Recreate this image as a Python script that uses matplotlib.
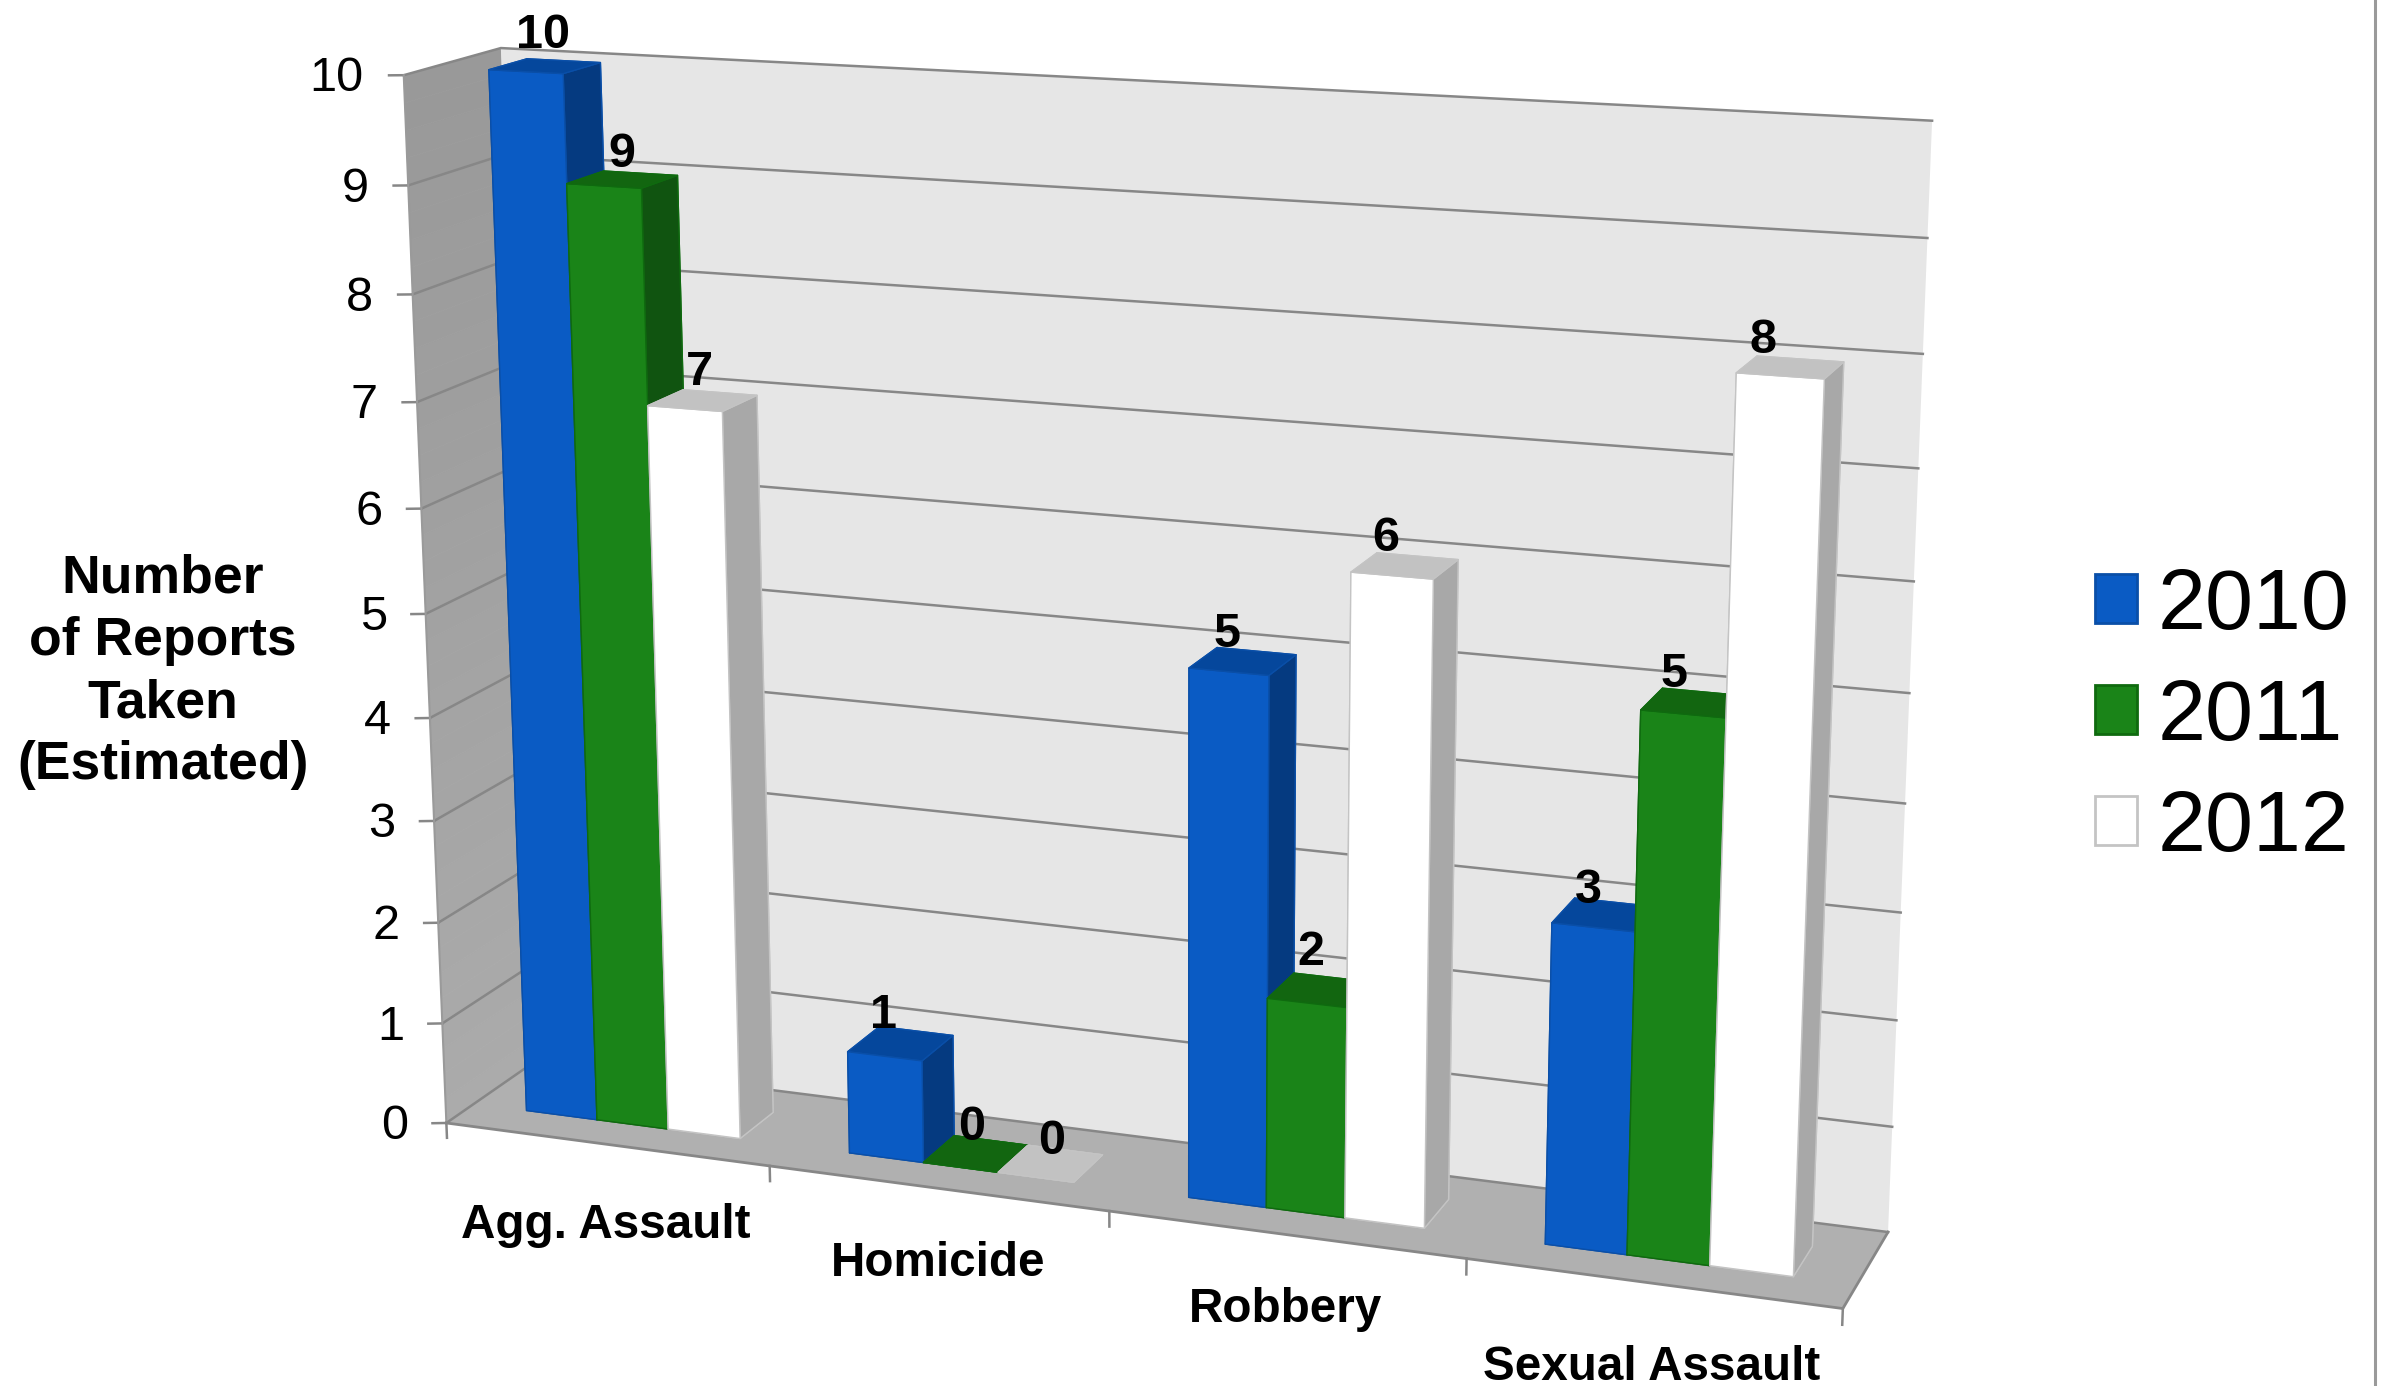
import numpy as np
import matplotlib
matplotlib.use('Agg')
import matplotlib.pyplot as plt
from matplotlib.lines import Line2D
from matplotlib.patches import Patch
from mpl_toolkits.mplot3d import proj3d
from mpl_toolkits.mplot3d.art3d import Poly3DCollection

plt.rcParams['font.family'] = ['Liberation Sans', 'DejaVu Sans']

categories = ['Agg. Assault', 'Homicide', 'Robbery', 'Sexual Assault']
years = ['2010', '2011', '2012']
reports_2010 = [10, 1, 5, 3]
reports_2011 = [9, 0, 2, 5]
reports_2012 = [7, 0, 6, 8]
y_ticks = [0, 1, 2, 3, 4, 5, 6, 7, 8, 9, 10]

# front, top, side, edge for each series
blues = ['#0a5bc4', '#05479c', '#053a80', '#0a4fa8']
greens = ['#1a8418', '#126610', '#105410', '#0f6a0f']
whites = ['#ffffff', '#c2c2c2', '#a8a8a8', '#c4c4c4']

# small per-label shifts for the value labels (x in category units, z in report units)
label_dx = [[0, -0.026, 0.004, 0.026], [0.009, 0.017, 0.026, 0.022], [0.004, 0.039, 0.004, 0.009]]
label_dz = [[0.22, 0.11, 0.13, 0.08], [0.16, 0.10, 0.22, 0.13], [0.17, 0.07, 0.14, 0.14]]

W, H = 2383, 1386
S = 2800
CX, CY = 1106.3, 690.1

fig = plt.figure(figsize=(W / 100, H / 100), dpi=100)
ax = fig.add_axes([(CX - S / 2) / W, (H - CY - S / 2) / H, S / W, S / H],
                  projection='3d', computed_zorder=False)
ax.set_axis_off()
ax.patch.set_alpha(0)

grid_col = '#878787'

# walls and floor
strips = np.linspace(0, 10, 41)
shades = np.linspace(0.67, 0.60, 40)
left_wall = [[(0, 0, a), (0, 1, a), (0, 1, b), (0, 0, b)] for a, b in zip(strips[:-1], strips[1:])]
ax.add_collection3d(Poly3DCollection(left_wall, facecolors=[str(s) for s in shades],
                                     edgecolors=[str(s) for s in shades], linewidths=0.5, zorder=0))
ax.add_collection3d(Poly3DCollection([[(0, 1, 0), (4, 1, 0), (4, 1, 10), (0, 1, 10)]],
                                     facecolors='#e6e6e6', edgecolors='none', zorder=0))
ax.add_collection3d(Poly3DCollection([[(0, 0, 0), (4, 0, 0), (4, 1, 0), (0, 1, 0)]],
                                     facecolors='#b0b0b0', edgecolors='none', zorder=0))

# gridlines run along both walls
for t in y_ticks:
    ax.plot([0, 0, 4], [0, 1, 1], [t, t, t], color=grid_col, lw=1.8, solid_joinstyle='miter', zorder=1)
    ax.plot([-0.036, 0], [-0.027, 0], [t, t], color=grid_col, lw=1.8, zorder=1)
ax.plot([0, 0], [0, 0], [0, 10], color='#9a9a9a', lw=1.5, zorder=1)
ax.plot([0, 4, 4], [0, 0, 1], [0, 0, 0], color=grid_col, lw=2.0, zorder=1)
for i in range(5):
    ax.plot([i, i], [0, 0], [0, -0.15], color=grid_col, lw=1.8, zorder=1)

# bars, left to right so the nearer ones cover the sides of the previous
bar_w = 2 / 9
y_front, y_back = 0.3, 0.7
series = [reports_2010, reports_2011, reports_2012]
palettes = [blues, greens, whites]
z = 2
for c in range(len(categories)):
    for s in range(3):
        x0 = c + 1 / 6 + s * bar_w
        front, top, side, edge = palettes[s]
        ax.bar3d(x0, y_front, 0, bar_w, y_back - y_front, series[s][c], shade=False,
                 color=[side, top, front, side, side, side], edgecolor=edge, linewidth=1.0, zorder=z)
        z += 1

ax.set_xlim(0, 4)
ax.set_ylim(0, 1)
ax.set_zlim(0, 10)
ax.set_xticks([])
ax.set_yticks([])
ax.set_zticks([])
ax.view_init(14.852, -69.862, 0.107)
ax.set_proj_type('persp', focal_length=0.3236)
ax.set_box_aspect((1.3467, 0.1886, 1), zoom=0.6525)
M = ax.get_proj()


def label3d(x, y, z3, txt, **kw):
    # flat text placed at a projected 3D position
    px, py, _ = proj3d.proj_transform(x, y, z3, M)
    ax.text2D(px, py, txt, transform=ax.transData, color='black', zorder=50, **kw)


# value labels sit over the back of each bar
for c in range(len(categories)):
    for s in range(3):
        xc = c + 1 / 6 + (s + 0.5) * bar_w
        val = series[s][c]
        label3d(xc - 0.056 - 0.0134 * xc + label_dx[s][c], y_back, val + label_dz[s][c], str(val),
                ha='center', va='center', fontsize=35, fontweight='bold')

for t in y_ticks:
    label3d(-0.098, -0.074, t - 0.03, str(t), ha='right', va='center', fontsize=35)

fig.text(163 / W, 1 - 672 / H, 'Number\nof Reports\nTaken\n(Estimated)', ha='center', va='center',
         fontsize=38.5, fontweight='bold', linespacing=1.31)

cat_x = [606, 938, 1286, 1652]
cat_y = [1225, 1264, 1309, 1368]
for name, px, py in zip(categories, cat_x, cat_y):
    fig.text(px / W, 1 - py / H, name, ha='center', va='center', fontsize=34.3, fontweight='bold')

handles = [Patch(facecolor=blues[0], edgecolor=blues[3], lw=2),
           Patch(facecolor=greens[0], edgecolor=greens[3], lw=2),
           Patch(facecolor=whites[0], edgecolor=whites[3], lw=2)]
fig.legend(handles, years, loc='center left', bbox_to_anchor=(2095 / W, 1 - 718 / H), frameon=False,
           fontsize=62, handlelength=0.49, handleheight=0.49, handletextpad=0.24,
           labelspacing=0.36, borderpad=0, borderaxespad=0)

# thin rule down the right of the slide
fig.add_artist(Line2D([2375 / W, 2375 / W], [0, 1], color='#9a9a9a', lw=2.2, transform=fig.transFigure))

fig.savefig('out.png', dpi=100, facecolor='white')
